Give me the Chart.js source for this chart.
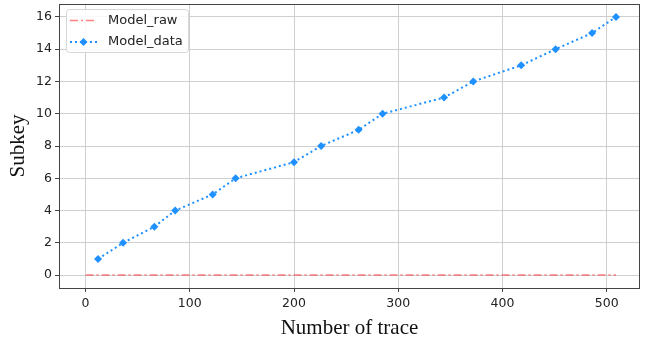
<!DOCTYPE html>
<html>
<head>
<meta charset="utf-8">
<script src="https://cdn.jsdelivr.net/npm/chart.js@4"></script>
<style>
  html, body { margin: 0; padding: 0; background: #fff; }
  canvas { display: block; }
</style>
</head>
<body>
<canvas id="chart" width="651" height="337"></canvas>
<script>
// Data
const traceCounts = [12, 36, 66, 86, 122, 144, 200, 226, 262, 285, 344, 372, 418, 451, 486, 509];
const subkeyValues = [1, 2, 3, 4, 5, 6, 7, 8, 9, 10, 11, 12, 13, 14, 15, 16];
const rawX = [0, 509];
const rawY = [0, 0];
const xTicks = [0, 100, 200, 300, 400, 500];
const yTicks = [0, 2, 4, 6, 8, 10, 12, 14, 16];
const seriesNames = ["Model_raw", "Model_data"];

const redColor = "rgba(255, 60, 60, 0.65)";
const blueColor = "#1E90FF";
const tickFont = { family: "DejaVu Sans", size: 12.5 };

// Draws frame around plot area and matplotlib-like legend
const framePlugin = {
  id: "frame",
  afterDraw(chart) {
    const ctx = chart.ctx;
    const a = chart.chartArea;
    ctx.save();
    ctx.strokeStyle = "#444";
    ctx.lineWidth = 1;
    ctx.strokeRect(a.left + 0.5, a.top + 0.5, a.right - a.left - 1, a.bottom - a.top);

    // legend box
    const lx = 66, ly = 9, lw = 122, lh = 43;
    ctx.beginPath();
    ctx.roundRect(lx + 0.5, ly + 0.5, lw, lh, 3);
    ctx.fillStyle = "rgba(255,255,255,0.85)";
    ctx.fill();
    ctx.strokeStyle = "#d6d6d6";
    ctx.stroke();

    // Model_raw entry
    ctx.strokeStyle = redColor;
    ctx.lineWidth = 1.5;
    ctx.setLineDash([8, 3, 2, 3]);
    ctx.beginPath();
    ctx.moveTo(70, 20.5);
    ctx.lineTo(97, 20.5);
    ctx.stroke();

    // Model_data entry
    ctx.strokeStyle = blueColor;
    ctx.lineWidth = 2;
    ctx.setLineDash([2, 3]);
    ctx.beginPath();
    ctx.moveTo(70, 42);
    ctx.lineTo(97, 42);
    ctx.stroke();
    ctx.setLineDash([]);
    ctx.fillStyle = blueColor;
    ctx.beginPath();
    ctx.moveTo(83.5, 38);
    ctx.lineTo(87.5, 42);
    ctx.lineTo(83.5, 46);
    ctx.lineTo(79.5, 42);
    ctx.closePath();
    ctx.fill();

    ctx.fillStyle = "#222";
    ctx.font = "13px 'DejaVu Sans'";
    ctx.textBaseline = "middle";
    ctx.fillText(seriesNames[0], 108, 20.5);
    ctx.fillText(seriesNames[1], 108, 42);
    ctx.restore();
  }
};

new Chart(document.getElementById("chart"), {
  type: "line",
  data: {
    datasets: [
      {
        label: seriesNames[0],
        data: rawX.map((x, i) => ({ x: x, y: rawY[i] })),
        borderColor: redColor,
        borderWidth: 1.5,
        borderDash: [8, 3, 2, 3],
        pointRadius: 0,
        fill: false,
      },
      {
        label: seriesNames[1],
        data: traceCounts.map((x, i) => ({ x: x, y: subkeyValues[i] })),
        borderColor: blueColor,
        backgroundColor: blueColor,
        borderWidth: 2,
        borderDash: [2, 3],
        pointStyle: "rectRot",
        pointRadius: 4,
        pointBorderWidth: 0,
        fill: false,
      },
    ],
  },
  options: {
    responsive: false,
    animation: false,
    layout: { padding: { top: 3, right: 11, left: 0, bottom: 0 } },
    plugins: {
      legend: { display: false },
      tooltip: { enabled: false },
    },
    scales: {
      x: {
        type: "linear",
        min: -25.5,
        max: 532,
        afterBuildTicks: (scale) => { scale.ticks = xTicks.map((v) => ({ value: v })); },
        afterFit: (scale) => {
          scale.height = 49;
          scale.paddingLeft = 0;
          scale.paddingRight = 0;
        },
        grid: { color: "#cfcfcf", tickLength: 4, tickColor: "#444" },
        border: { display: false },
        ticks: { font: tickFont, color: "#222", padding: 4, maxRotation: 0 },
        title: {
          display: true,
          text: "Number of trace",
          font: { family: "Liberation Serif", size: 21 },
          color: "#111",
          padding: { top: 0, bottom: -4 },
        },
      },
      y: {
        min: -0.8,
        max: 16.8,
        afterBuildTicks: (scale) => { scale.ticks = yTicks.map((v) => ({ value: v })); },
        afterFit: (scale) => {
          scale.width = 59;
          scale.paddingTop = 0;
          scale.paddingBottom = 0;
        },
        grid: { color: "#cfcfcf", tickLength: 4, tickColor: "#444" },
        border: { display: false },
        ticks: { font: tickFont, color: "#222", padding: 3 },
        title: {
          display: true,
          text: "Subkey",
          font: { family: "Liberation Serif", size: 21 },
          color: "#111",
          padding: { top: 5.5 },
        },
      },
    },
  },
  plugins: [framePlugin],
});
</script>
</body>
</html>
